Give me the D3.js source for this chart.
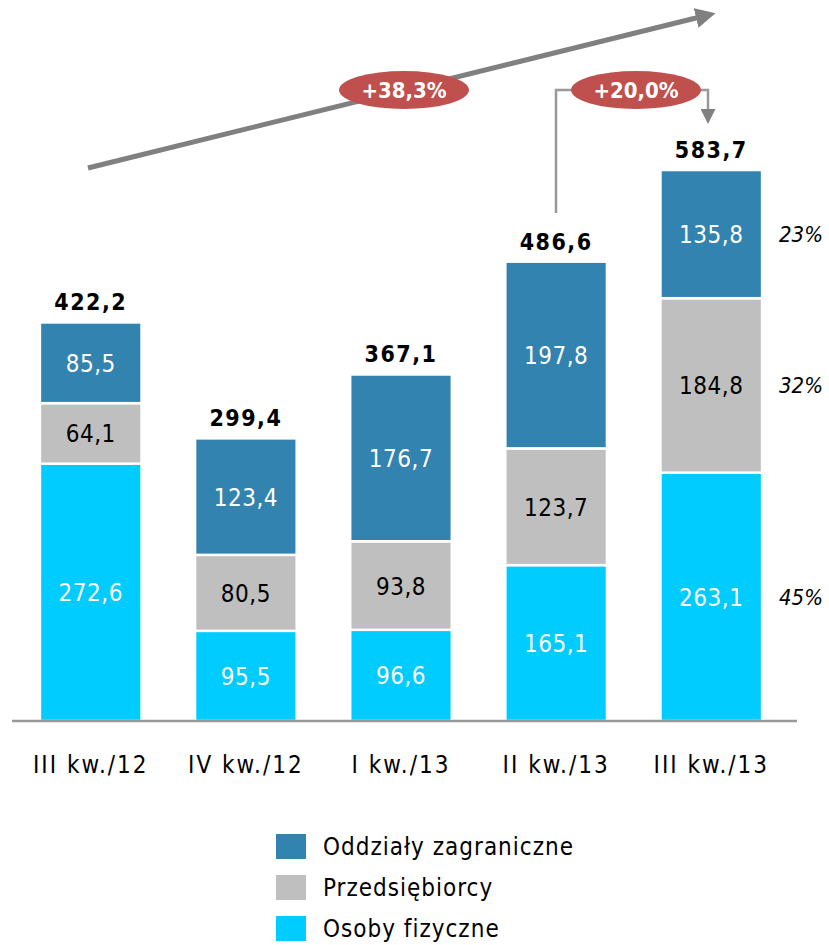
<!DOCTYPE html>
<html><head><meta charset="utf-8">
<script src="https://cdn.jsdelivr.net/npm/d3@7"></script>
<style>body{margin:0;background:#fff}svg{display:block}</style>
</head><body>
<svg id="c" width="829" height="945"></svg>
<script>
const categories = ["III kw./12","IV kw./12","I kw./13","II kw./13","III kw./13"];
const seriesNames = ["Osoby fizyczne","Przedsiębiorcy","Oddziały zagraniczne"];
const osoby = [272.6, 95.5, 96.6, 165.1, 263.1];
const przeds = [64.1, 80.5, 93.8, 123.7, 184.8];
const oddzialy = [85.5, 123.4, 176.7, 197.8, 135.8];
const totals = ["422,2","299,4","367,1","486,6","583,7"];
const shares = ["45%","32%","23%"];
const growthLabels = ["+38,3%","+20,0%"];
const colors = ["#00ccff","#bfbfbf","#3383b0"];
const textColors = ["#ffffff","#000000","#ffffff"];

const FONT = "'DejaVu Sans Condensed','DejaVu Sans',sans-serif";
const svg = d3.select("#c");
const fmt = v => v.toFixed(1).replace(".", ",");

const x = d3.scaleBand().domain(categories).range([12, 790]).paddingInner(0.345).paddingOuter(0.18);
const y = d3.scaleLinear().domain([0, 583.7]).range([721, 170]);

const rows = categories.map((c,i)=>({cat:c, s0:osoby[i], s1:przeds[i], s2:oddzialy[i]}));
const stack = d3.stack().keys(["s0","s1","s2"])(rows);

stack.forEach((layer, li) => {
  const g = svg.append("g");
  g.selectAll("rect").data(layer).join("rect")
    .attr("x", d => x(d.data.cat))
    .attr("width", x.bandwidth())
    .attr("y", d => y(d[1]))
    .attr("height", d => y(d[0]) - y(d[1]))
    .attr("fill", colors[li])
    .attr("stroke", "#fff").attr("stroke-width", 2.5);
  g.selectAll("text").data(layer).join("text")
    .attr("x", d => x(d.data.cat) + x.bandwidth()/2)
    .attr("y", d => (y(d[0]) + y(d[1]))/2 + 9)
    .attr("text-anchor","middle")
    .attr("font-family", FONT).attr("font-size", 24).attr("letter-spacing", 0.5)
    .attr("fill", textColors[li])
    .text(d => fmt(d[1]-d[0]));
});

// totals
svg.append("g").selectAll("text").data(rows).join("text")
  .attr("x", d => x(d.cat) + x.bandwidth()/2)
  .attr("y", d => y(d.s0+d.s1+d.s2) - 12)
  .attr("text-anchor","middle")
  .attr("font-family", FONT).attr("font-size", 23).attr("font-weight","bold").attr("letter-spacing", 1.5)
  .attr("fill","#000")
  .text((d,i) => totals[i]);

// baseline axis
const axis = svg.append("g").attr("transform","translate(0,721)")
  .call(d3.axisBottom(x).tickSize(0).tickPadding(35));
axis.select(".domain").attr("d","M12,0H797").attr("stroke","#999").attr("stroke-width",2.5);
axis.selectAll("text").attr("font-family",FONT).attr("font-size",24).attr("letter-spacing",2).attr("fill","#000");

// share labels right of last bar
const last = rows[4];
const mids = [ (y(0)+y(last.s0))/2, (y(last.s0)+y(last.s0+last.s1))/2, (y(last.s0+last.s1)+y(last.s0+last.s1+last.s2))/2 ];
svg.append("g").selectAll("text").data(shares).join("text")
  .attr("x", 801).attr("y", (d,i) => mids[i] + 8)
  .attr("text-anchor","middle")
  .attr("font-family", FONT).attr("font-size", 22).attr("font-style","italic")
  .attr("fill","#000").text(d=>d);

// defs arrowheads
const defs = svg.append("defs");
defs.append("marker").attr("id","ah").attr("viewBox","0 0 10 10").attr("refX",2).attr("refY",5)
  .attr("markerWidth",4).attr("markerHeight",4).attr("orient","auto")
  .append("path").attr("d","M0,0L10,5L0,10z").attr("fill","#808080");
defs.append("marker").attr("id","ah2").attr("viewBox","0 0 10 10").attr("refX",2).attr("refY",5)
  .attr("markerWidth",6).attr("markerHeight",6).attr("orient","auto")
  .append("path").attr("d","M0,0L10,5L0,10z").attr("fill","#808080");

// big trend arrow
svg.append("line").attr("x1",88).attr("y1",168).attr("x2",700).attr("y2",17)
  .attr("stroke","#808080").attr("stroke-width",5).attr("marker-end","url(#ah)");

// bracket arrow
svg.append("path").attr("d","M556,213V90H580M695,90H708V112")
  .attr("fill","none").attr("stroke","#999").attr("stroke-width",2.5).attr("marker-end","url(#ah2)");

// ellipses
const ell = [{cx:404,cy:90,t:growthLabels[0]},{cx:636,cy:90,t:growthLabels[1]}];
const eg = svg.append("g").selectAll("g").data(ell).join("g");
eg.append("ellipse").attr("cx",d=>d.cx).attr("cy",d=>d.cy).attr("rx",65).attr("ry",19).attr("fill","#c0504d");
eg.append("text").attr("x",d=>d.cx).attr("y",d=>d.cy+8).attr("text-anchor","middle")
  .attr("font-family",FONT).attr("font-size",22).attr("font-weight","bold").attr("fill","#fff").text(d=>d.t);

// legend
const leg = svg.append("g");
const legItems = [2,1,0];
legItems.forEach((si, k) => {
  const yy = 834 + k*41;
  leg.append("rect").attr("x",276).attr("y",yy).attr("width",30).attr("height",25).attr("fill",colors[si]);
  leg.append("text").attr("x",323).attr("y",yy+21).attr("font-family",FONT).attr("font-size",24).attr("letter-spacing",1).attr("fill","#000").text(seriesNames[si]);
});
</script>
</body></html>
